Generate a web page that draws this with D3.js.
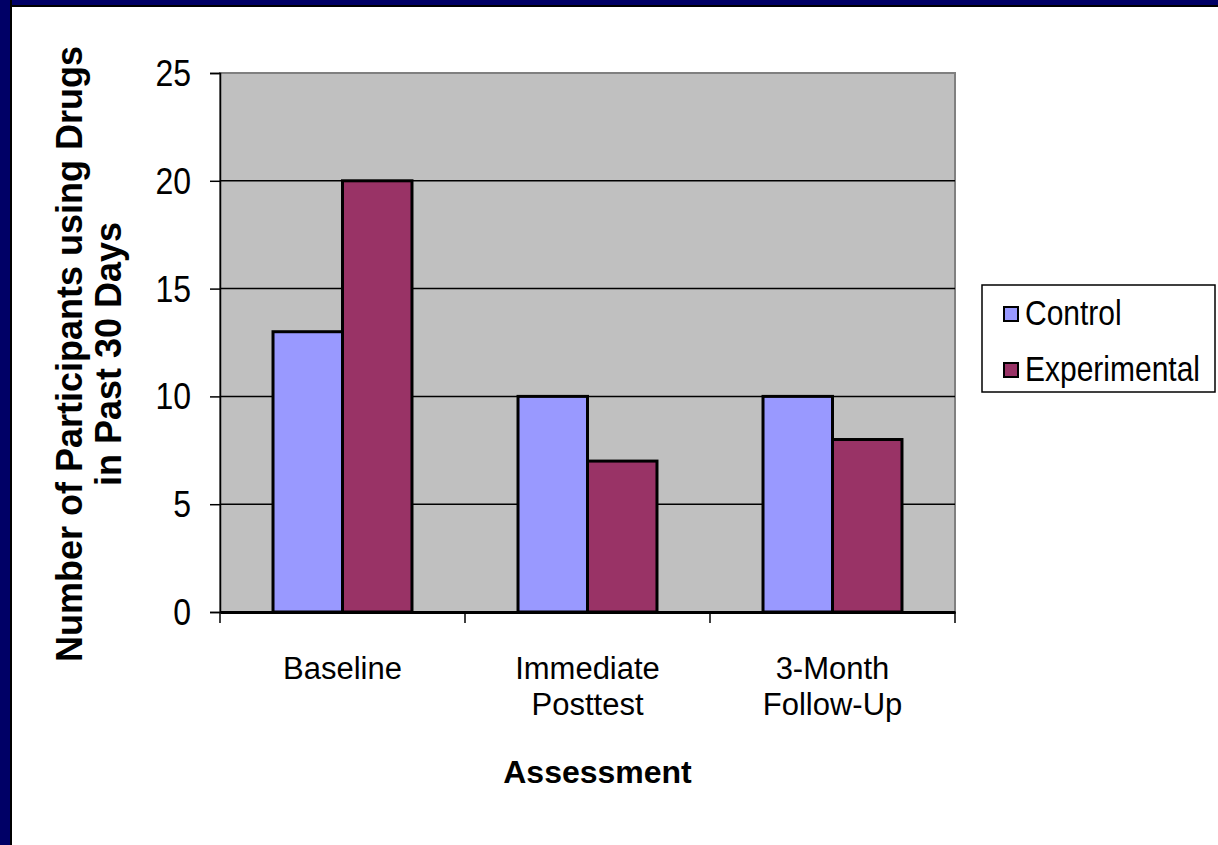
<!DOCTYPE html>
<html>
<head>
<meta charset="utf-8">
<script src="https://cdn.jsdelivr.net/npm/d3@7"></script>
<style>
  html, body { margin: 0; padding: 0; background: #ffffff; }
  svg { display: block; }
  text { font-family: "Liberation Sans", Arial, sans-serif; fill: #000; }
</style>
</head>
<body>
<svg id="chart" width="1218" height="845"></svg>
<script>
// Assessment points, each label split into its display lines
const categories = ["Baseline", "Immediate Posttest", "3-Month Follow-Up"];
const categoryLines = [["Baseline"], ["Immediate", "Posttest"], ["3-Month", "Follow-Up"]];
const seriesNames = ["Control", "Experimental"];
const controlValues = [13, 10, 10];
const experimentalValues = [20, 7, 8];
const yTicks = [0, 5, 10, 15, 20, 25];

const colors = { Control: "#9999ff", Experimental: "#993366" };

const svg = d3.select("#chart");

// slide frame (top and left edges)
svg.append("rect").attr("x", 0).attr("y", 0).attr("width", 1218).attr("height", 845).attr("fill", "#ffffff");
svg.append("rect").attr("x", 0).attr("y", 0).attr("width", 1218).attr("height", 7).attr("fill", "#000000");
svg.append("rect").attr("x", 0).attr("y", 0).attr("width", 1218).attr("height", 5).attr("fill", "#000066");
svg.append("rect").attr("x", 0).attr("y", 0).attr("width", 12).attr("height", 845).attr("fill", "#000000");
svg.append("rect").attr("x", 0).attr("y", 0).attr("width", 10).attr("height", 845).attr("fill", "#000066");

const plot = { left: 220, right: 955, top: 73, bottom: 612 };

const x = d3.scaleBand().domain(categories).range([plot.left, plot.right]).paddingInner(0).paddingOuter(0);
const xSeries = d3.scaleBand().domain(seriesNames).range([0, x.bandwidth()]).paddingInner(0).paddingOuter(0.763);
const y = d3.scaleLinear().domain([0, 25]).range([plot.bottom, plot.top]);

// plot area
svg.append("rect")
  .attr("x", plot.left).attr("y", plot.top)
  .attr("width", plot.right - plot.left).attr("height", plot.bottom - plot.top)
  .attr("fill", "#c0c0c0").attr("stroke", "#808080").attr("stroke-width", 2);

// horizontal gridlines
svg.append("g").selectAll("line")
  .data(yTicks.filter(t => t > 0 && t < 25))
  .join("line")
  .attr("x1", plot.left).attr("x2", plot.right)
  .attr("y1", d => y(d)).attr("y2", d => y(d))
  .attr("stroke", "#000").attr("stroke-width", 1.5);

// bars
const rows = categories.map((c, i) => ({ category: c, values: [
  { name: "Control", value: controlValues[i] },
  { name: "Experimental", value: experimentalValues[i] }
]}));

const groups = svg.append("g").selectAll("g")
  .data(rows).join("g")
  .attr("transform", d => `translate(${x(d.category)},0)`);

groups.selectAll("rect")
  .data(d => d.values).join("rect")
  .attr("x", d => xSeries(d.name))
  .attr("y", d => y(d.value))
  .attr("width", xSeries.bandwidth())
  .attr("height", d => y(0) - y(d.value))
  .attr("fill", d => colors[d.name])
  .attr("stroke", "#000").attr("stroke-width", 3);

// y axis
const yAxis = d3.axisLeft(y).tickValues(yTicks).tickSize(10).tickPadding(20).tickFormat(d3.format("d"));
const yG = svg.append("g").attr("transform", `translate(${plot.left},0)`).call(yAxis);
yG.select(".domain").attr("stroke", "#000").attr("stroke-width", 1.5);
yG.selectAll(".tick line").attr("stroke", "#000").attr("stroke-width", 1.5);
yG.selectAll(".tick text")
  .attr("font-size", 32)
  .attr("font-family", "Liberation Sans, Arial, sans-serif")
  .attr("fill", "#000")
  .attr("dy", null)
  .attr("x", null)
  .attr("transform", "translate(-29,0) scale(1,1.13) translate(0,11)");

// x axis
const xAxis = d3.axisBottom(x).tickSize(0).tickFormat("");
const xG = svg.append("g").attr("transform", `translate(0,${plot.bottom})`).call(xAxis);
xG.select(".domain").attr("stroke", "#000").attr("stroke-width", 3);
// tick marks at category boundaries
const boundaries = categories.map(c => x(c)).concat([x(categories[categories.length - 1]) + x.bandwidth()]);
xG.append("g").selectAll("line").data(boundaries).join("line")
  .attr("x1", d => d).attr("x2", d => d)
  .attr("y1", 0).attr("y2", 11)
  .attr("stroke", "#000").attr("stroke-width", 1.5);

// category labels
const catLabels = svg.append("g").selectAll("text")
  .data(categories).join("text")
  .attr("text-anchor", "middle")
  .attr("font-size", 31);
catLabels.each(function(d, i) {
  const t = d3.select(this);
  categoryLines[i].forEach((line, j) => {
    t.append("tspan")
      .attr("x", x(d) + x.bandwidth() / 2)
      .attr("y", 679 + j * 36)
      .text(line);
  });
});

// axis titles
svg.append("text")
  .attr("x", (plot.left + plot.right) / 2 + 10).attr("y", 783)
  .attr("text-anchor", "middle")
  .attr("font-size", 32).attr("font-weight", "bold")
  .text("Assessment");

const yTitle = svg.append("text")
  .attr("transform", "translate(82,354) rotate(-90)")
  .attr("text-anchor", "middle")
  .attr("font-size", 36).attr("font-weight", "bold");
yTitle.append("tspan").attr("x", 0).attr("y", 0).text("Number of Participants using Drugs");
yTitle.append("tspan").attr("x", 0).attr("y", 39).text("in Past 30 Days");

// legend
const legend = svg.append("g").attr("transform", "translate(982,285)");
legend.append("rect")
  .attr("width", 233).attr("height", 107)
  .attr("fill", "#fff").attr("stroke", "#000").attr("stroke-width", 1.5);
const items = legend.selectAll("g.item").data(seriesNames).join("g")
  .attr("class", "item")
  .attr("transform", (d, i) => `translate(0,${29 + i * 56})`);
items.append("rect")
  .attr("x", 22).attr("y", -7)
  .attr("width", 14).attr("height", 14)
  .attr("fill", d => colors[d]).attr("stroke", "#000").attr("stroke-width", 2);
items.append("text")
  .attr("transform", "translate(43,11) scale(1,1.18)")
  .attr("font-size", 30)
  .text(d => d);
</script>
</body>
</html>
